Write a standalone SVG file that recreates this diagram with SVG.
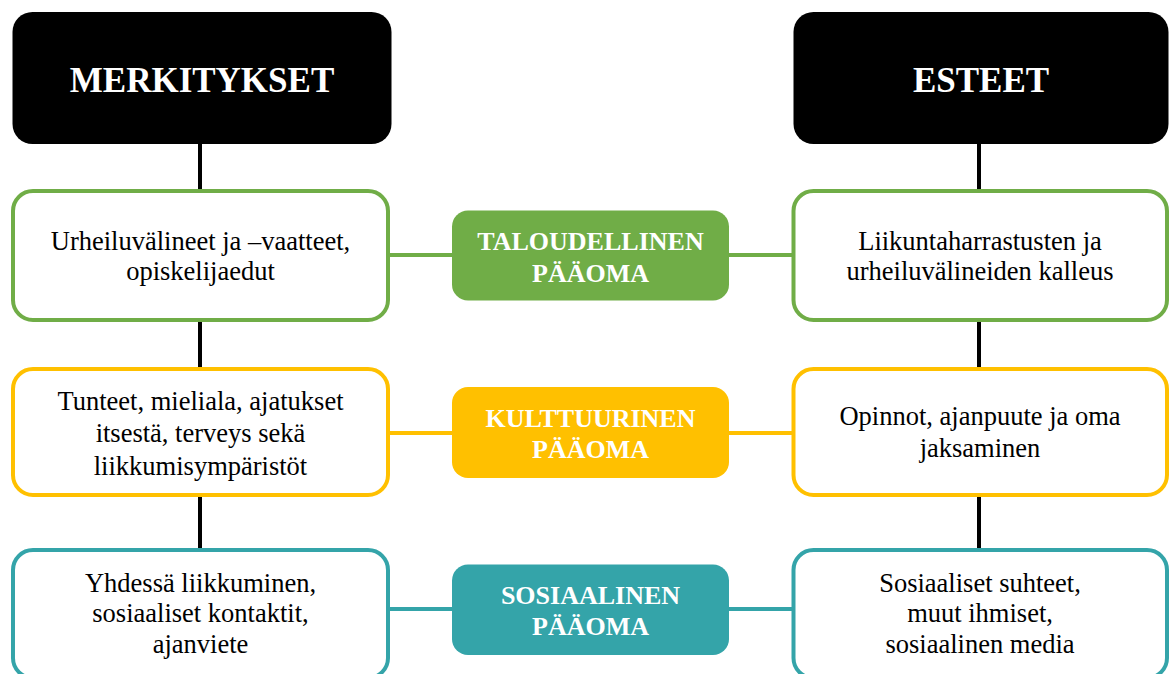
<svg xmlns="http://www.w3.org/2000/svg" width="1170" height="674" viewBox="0 0 1170 674">
<style>
.head{fill:#000}
.box{fill:#fff;stroke-width:4}
.g{stroke:#70AD47}
.y{stroke:#FFC000}
.t{stroke:#34A4A9}
.body{font-family:"Liberation Serif","Times New Roman",serif;font-size:26.5px;fill:#000;text-anchor:middle}
.lbl{font-family:"Liberation Serif","Times New Roman",serif;font-size:26px;font-weight:bold;fill:#fff;text-anchor:middle}
.ht{font-family:"Liberation Serif","Times New Roman",serif;font-size:35px;font-weight:bold;fill:#fff;text-anchor:middle}
.vl{stroke:#000;stroke-width:4}
.hl{stroke-width:4;fill:none}
</style>
<rect width="1170" height="674" fill="#fff"/>
<g id="connectors">
<line class="vl" x1="200" y1="143" x2="200" y2="191"/>
<line class="vl" x1="200" y1="320" x2="200" y2="369"/>
<line class="vl" x1="200" y1="495" x2="200" y2="550"/>
<line class="vl" x1="979" y1="143" x2="979" y2="191"/>
<line class="vl" x1="979" y1="320" x2="979" y2="369"/>
<line class="vl" x1="979" y1="495" x2="979" y2="550"/>
<line class="hl g" x1="388" y1="255" x2="452" y2="255"/>
<line class="hl g" x1="729" y1="255" x2="793" y2="255"/>
<line class="hl y" x1="388" y1="433" x2="452" y2="433"/>
<line class="hl y" x1="729" y1="433" x2="793" y2="433"/>
<line class="hl t" x1="388" y1="609" x2="452" y2="609"/>
<line class="hl t" x1="729" y1="609" x2="793" y2="609"/>
</g>
<g id="merkitykset">
<rect class="head" x="12.5" y="12" width="379" height="132" rx="20"/>
<text class="ht" x="202" y="92">MERKITYKSET</text>
</g>
<g id="esteet">
<rect class="head" x="793.5" y="12" width="375" height="132" rx="20"/>
<text class="ht" x="981" y="92">ESTEET</text>
</g>
<g id="m-taloudellinen">
<rect class="box g" x="13" y="191" width="375" height="129" rx="20"/>
<text class="body" x="200.5" y="250">Urheiluvälineet ja –vaatteet,</text>
<text class="body" x="200.5" y="280">opiskelijaedut</text>
</g>
<g id="taloudellinen">
<rect x="452" y="210.5" width="277" height="90" rx="16" fill="#70AD47"/>
<text class="lbl" x="590.5" y="250">TALOUDELLINEN</text>
<text class="lbl" x="590.5" y="281.5">PÄÄOMA</text>
</g>
<g id="e-taloudellinen">
<rect class="box g" x="793.5" y="191" width="373.5" height="129" rx="20"/>
<text class="body" x="980" y="250">Liikuntaharrastusten ja</text>
<text class="body" x="980" y="280">urheiluvälineiden kalleus</text>
</g>
<g id="m-kulttuurinen">
<rect class="box y" x="13" y="369" width="375" height="126" rx="20"/>
<text class="body" x="200.5" y="410">Tunteet, mieliala, ajatukset</text>
<text class="body" x="200.5" y="442">itsestä, terveys sekä</text>
<text class="body" x="200.5" y="474.5">liikkumisympäristöt</text>
</g>
<g id="kulttuurinen">
<rect x="452" y="387" width="277" height="91" rx="16" fill="#FFC000"/>
<text class="lbl" x="590.5" y="426.5">KULTTUURINEN</text>
<text class="lbl" x="590.5" y="458">PÄÄOMA</text>
</g>
<g id="e-kulttuurinen">
<rect class="box y" x="793.5" y="369" width="373.5" height="126" rx="20"/>
<text class="body" x="980" y="425">Opinnot, ajanpuute ja oma</text>
<text class="body" x="980" y="456.5">jaksaminen</text>
</g>
<g id="m-sosiaalinen">
<rect class="box t" x="13" y="550" width="375" height="128" rx="20"/>
<text class="body" x="200.5" y="591.5">Yhdessä liikkuminen,</text>
<text class="body" x="200.5" y="622">sosiaaliset kontaktit,</text>
<text class="body" x="200.5" y="653">ajanviete</text>
</g>
<g id="sosiaalinen">
<rect x="452" y="564.5" width="277" height="90.5" rx="16" fill="#34A4A9"/>
<text class="lbl" x="590.5" y="603.5">SOSIAALINEN</text>
<text class="lbl" x="590.5" y="635">PÄÄOMA</text>
</g>
<g id="e-sosiaalinen">
<rect class="box t" x="793.5" y="550" width="373.5" height="128" rx="20"/>
<text class="body" x="980" y="591.5">Sosiaaliset suhteet,</text>
<text class="body" x="980" y="622">muut ihmiset,</text>
<text class="body" x="980" y="653">sosiaalinen media</text>
</g>
</svg>
